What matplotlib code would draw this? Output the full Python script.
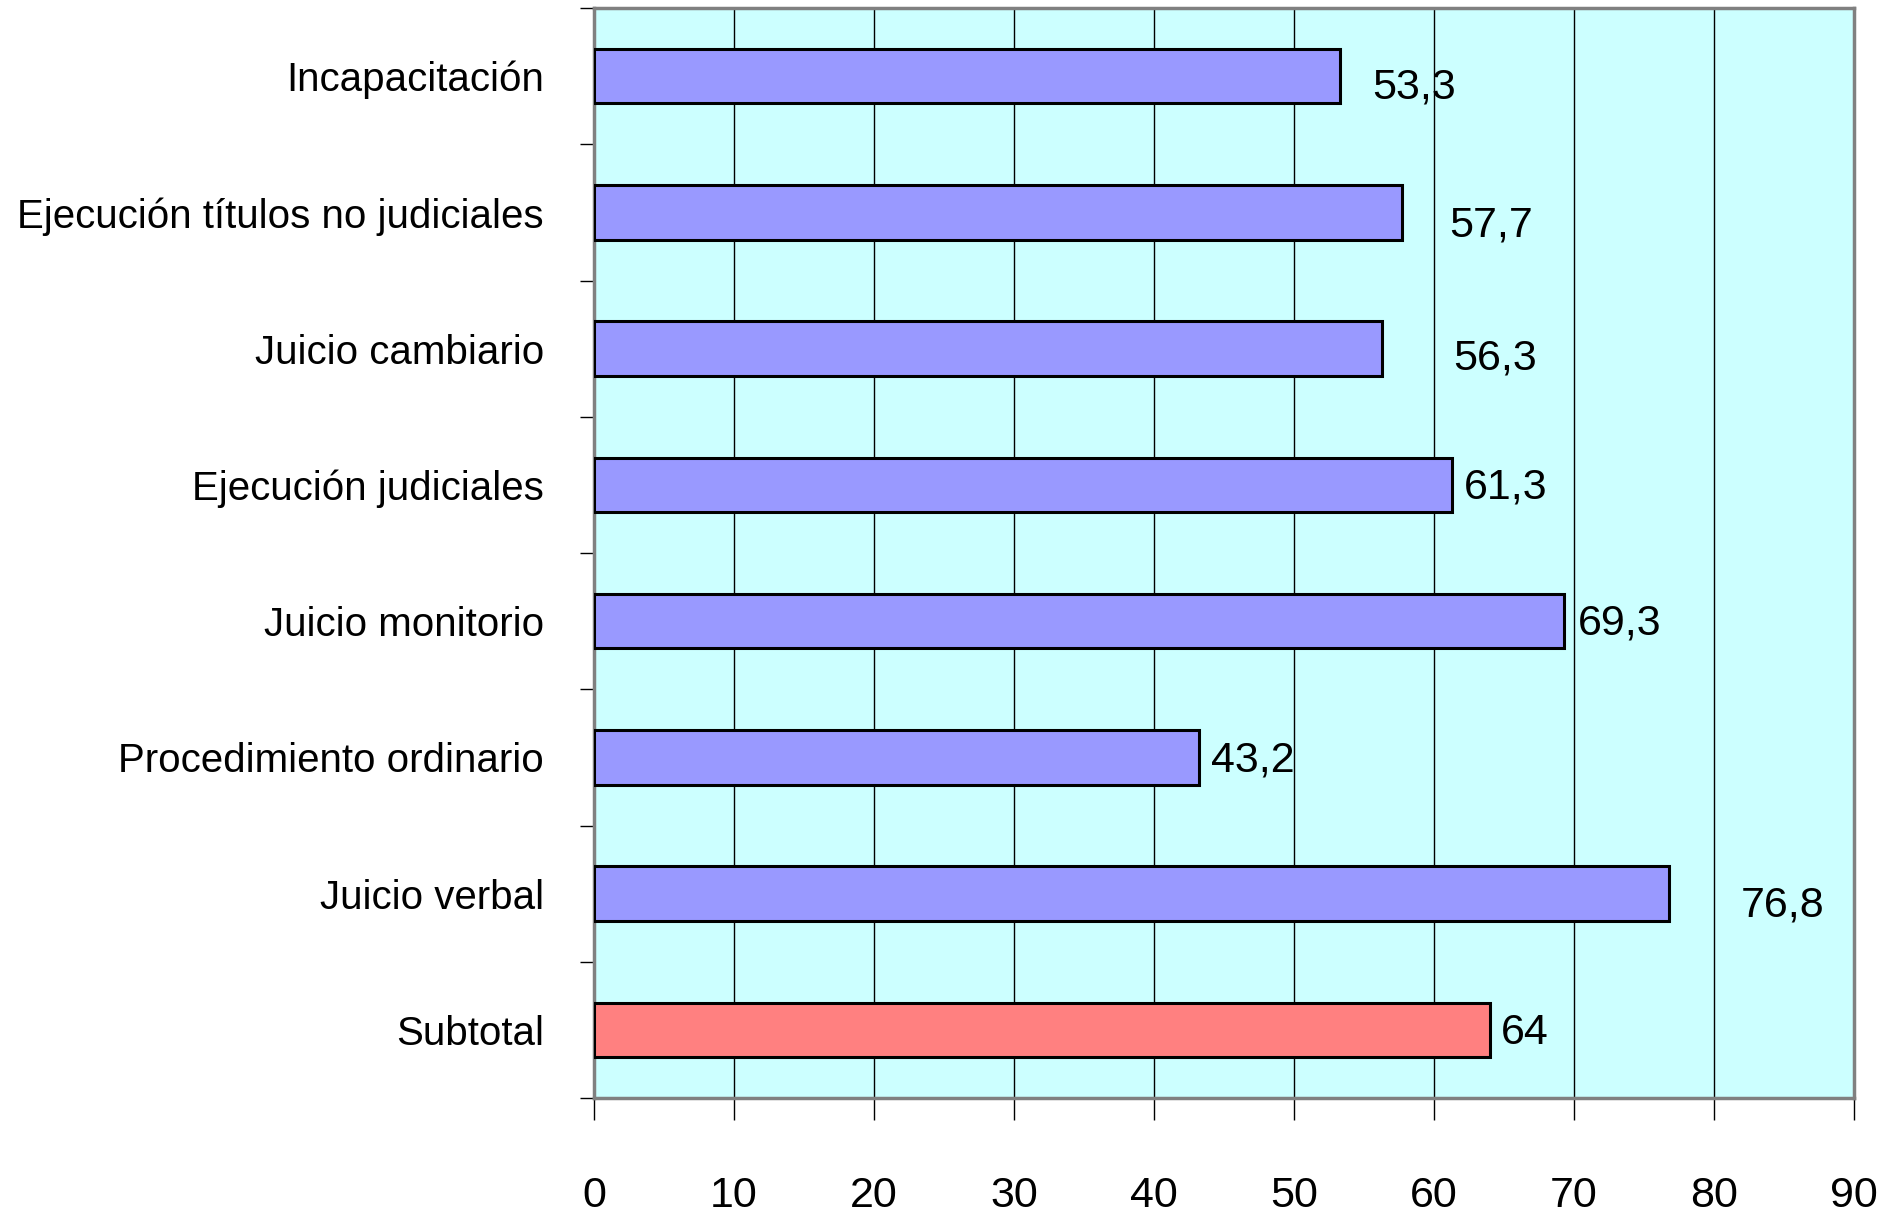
import numpy as np
import matplotlib.pyplot as plt

# chart data, top to bottom as in the original
categories = ['Incapacitación', 'Ejecución títulos no judiciales', 'Juicio cambiario',
              'Ejecución judiciales', 'Juicio monitorio', 'Procedimiento ordinario',
              'Juicio verbal', 'Subtotal']
values = [53.3, 57.7, 56.3, 61.3, 69.3, 43.2, 76.8, 64]
value_labels = ['53,3', '57,7', '56,3', '61,3', '69,3', '43,2', '76,8', '64']
x_ticks = [0, 10, 20, 30, 40, 50, 60, 70, 80, 90]

# label placement, as in the original (offsets are a bit irregular there)
label_dx = [2.3, 3.4, 5.05, 0.8, 1.0, 0.85, 5.1, 0.8]
label_dy = [0.08, 0.1, 0.07, 0.02, 0.02, 0.02, 0.09, 0.02]

plt.rcParams['font.family'] = ['Liberation Sans', 'DejaVu Sans']
fs = 31

fig = plt.figure(figsize=(18.98, 12.24), dpi=100)
ax = fig.add_axes([594 / 1898, 1 - 1098 / 1224, (1854 - 594) / 1898, (1098 - 8) / 1224])
ax.set_facecolor('#CCFFFF')

y = np.arange(len(categories))
colors = ['#9999FF'] * (len(categories) - 1) + ['#FF8080']
ax.barh(y, values, height=0.4, color=colors, edgecolor='black', linewidth=2.2, zorder=3)

for yi, v, lab, dx, dy in zip(y, values, value_labels, label_dx, label_dy):
    ax.text(v + dx, yi + dy, lab, ha='left', va='center', fontsize=fs, zorder=4)

ax.set_xlim(0, 90)
ax.set_ylim(len(categories) - 0.5, -0.5)
ax.set_xticks(x_ticks)
ax.set_xticklabels([str(t) for t in x_ticks], fontsize=fs)
ax.xaxis.grid(True, color='black', linewidth=1.0, zorder=1)
ax.tick_params(axis='x', length=16, width=1, color='black', pad=40)

ax.set_yticks(y)
ax.set_yticklabels(categories, fontsize=29)
ax.set_yticks(np.arange(len(categories) + 1) - 0.5, minor=True)
ax.tick_params(axis='y', which='major', length=0, pad=36)
ax.tick_params(axis='y', which='minor', length=10, width=1, color='black')

for s in ax.spines.values():
    s.set_color('#808080')
    s.set_linewidth(2.5)

fig.savefig('out.png', dpi=100)
